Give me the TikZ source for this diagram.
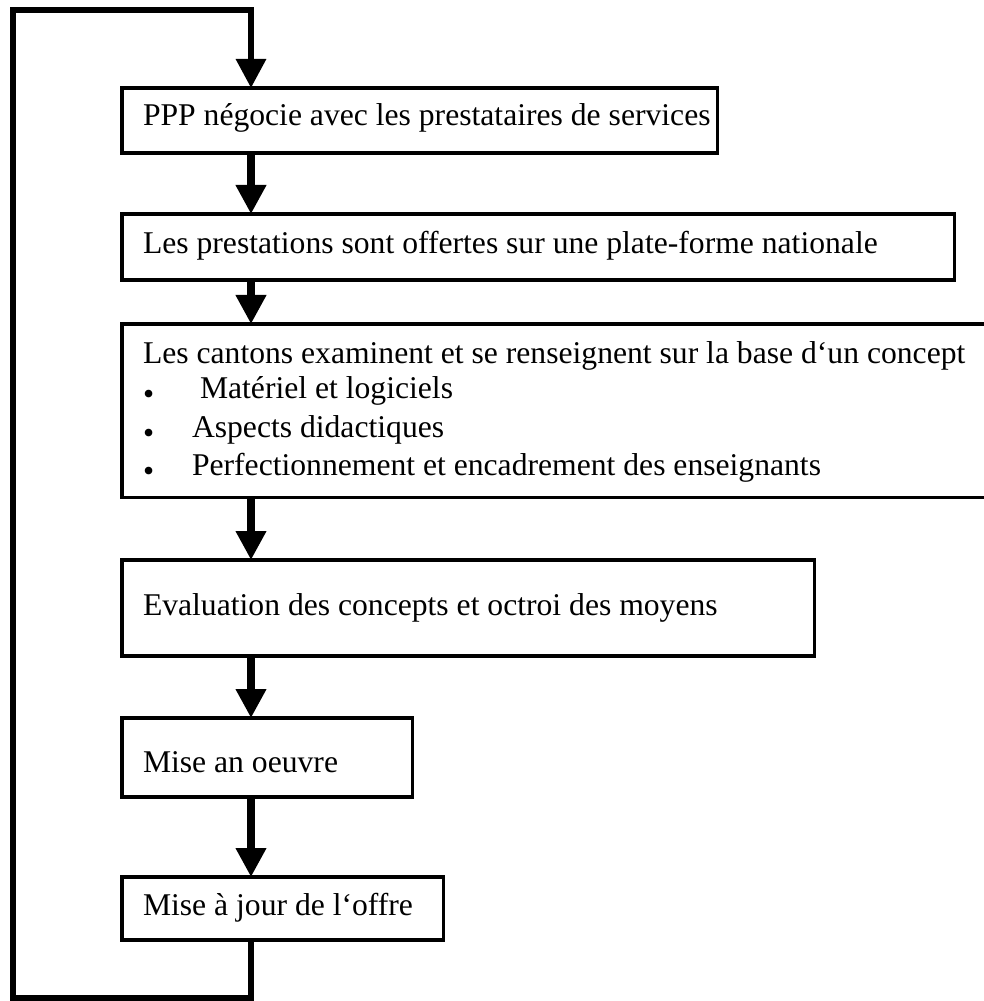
\documentclass[tikz,border=0pt]{standalone}
\usepackage{fontspec}
\setmainfont{Liberation Serif}
\usetikzlibrary{arrows.meta}

\begin{document}
\begin{tikzpicture}[x=0.025cm,y=-0.025cm,
  stepbox/.style={draw,line width=2.2pt,anchor=north west,inner sep=0pt,outer sep=0pt},
  steptext/.style={anchor=base west,inner sep=0pt,outer sep=0pt,font=\fontsize{22.5}{27}\selectfont},
  flow/.style={line width=5pt,-{Triangle[width=0.725cm,length=0.725cm]}},
  loopback/.style={line width=4.4pt,line join=miter,-{Triangle[width=0.725cm,length=0.725cm]}}]
\clip (0,0) rectangle (984,1001);
\coordinate (spine) at (251,0);
\coordinate (cbl) at (13,998);
\coordinate (ctl) at (13,10);
% boxes
\node[stepbox,minimum width=14.875cm,minimum height=1.625cm] (b1) at (122,88) {};
\node[stepbox,minimum width=20.8cm,minimum height=1.65cm] (b2) at (122,214) {};
\node[stepbox,minimum width=22.5cm,minimum height=4.325cm] (b3) at (122,324) {};
\node[stepbox,minimum width=17.3cm,minimum height=2.4cm] (b4) at (122,560) {};
\node[stepbox,minimum width=7.25cm,minimum height=1.975cm] (b5) at (122,718) {};
\node[stepbox,minimum width=8.025cm,minimum height=1.575cm] (b6) at (122,877) {};
% texts
\node[steptext] (t1) at (143,125) {PPP négocie avec les prestataires de services};
\node[steptext] (t2) at (143,253) {Les prestations sont offertes sur une plate-forme nationale};
\node[steptext] (t3) at (143,363) {Les cantons examinent et se renseignent sur la base d‘un concept};
\node[steptext] (t3a) at (143,398) {\makebox[1.225cm][l]{\raisebox{-0.15cm}{\textbullet}}\hspace{0.2cm}Matériel et logiciels};
\node[steptext] (t3b) at (143,437) {\makebox[1.225cm][l]{\raisebox{-0.15cm}{\textbullet}}Aspects didactiques};
\node[steptext] (t3c) at (143,475) {\makebox[1.225cm][l]{\raisebox{-0.15cm}{\textbullet}}Perfectionnement et encadrement des enseignants};
\node[steptext] (t4) at (143,615) {Evaluation des concepts et octroi des moyens};
\node[steptext] (t5) at (143,772) {Mise an oeuvre};
\node[steptext] (t6) at (143,915) {Mise à jour de l‘offre};
% arrows
\draw[flow] (b1.south -| spine) -- (b2.north -| spine);
\draw[flow] (b2.south -| spine) -- (b3.north -| spine);
\draw[flow] (b3.south -| spine) -- (b4.north -| spine);
\draw[flow] (b4.south -| spine) -- (b5.north -| spine);
\draw[flow] (b5.south -| spine) -- (b6.north -| spine);
\draw[loopback] (b6.south -| spine) |- (cbl) -- (ctl) -| (b1.north -| spine);
\end{tikzpicture}
\end{document}
